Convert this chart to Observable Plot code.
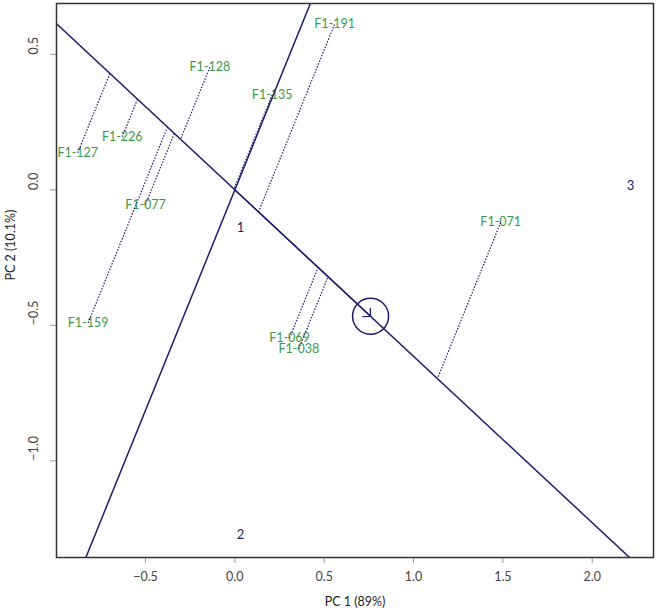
<!DOCTYPE html>
<html>
<head>
<meta charset="utf-8">
<script src="https://cdn.jsdelivr.net/npm/d3@7"></script>
<script src="https://cdn.jsdelivr.net/npm/@observablehq/plot@0.6"></script>
<style>
  html, body { margin: 0; padding: 0; background: #fff; }
  #chart svg { display: block; }
</style>
</head>
<body>
<div id="chart"></div>
<script>
// Genotype scores (green labels)
const genotypes = ["F1-191","F1-128","F1-135","F1-226","F1-127","F1-077","F1-159","F1-069","F1-038","F1-071"];
const genoPC1 = [0.558, -0.140, 0.209, -0.630, -0.879, -0.500, -0.821, 0.306, 0.358, 1.488];
const genoPC2 = [0.611, 0.453, 0.351, 0.196, 0.137, -0.054, -0.491, -0.547, -0.587, -0.120];

// Environment scores (navy labels)
const environments = ["1","2","3"];
const envPC1 = [0.032, 0.032, 2.215];
const envPC2 = [-0.140, -1.275, 0.015];

// Axes
const xTicks = [-0.5, 0.0, 0.5, 1.0, 1.5, 2.0];
const yTicks = [-1.0, -0.5, 0.0, 0.5];
const xDomain = [-0.998, 2.343];
const yDomain = [-1.357, 0.688];
const xTitle = "PC 1 (89%)";
const yTitle = "PC 2 (10.1%)";

const navy = "#1e1e6e";
const green = "#3a9a4c";

// Average environment coordinate (AEC)
const avgX = d3.mean(envPC1), avgY = d3.mean(envPC2);
const len = Math.hypot(avgX, avgY);
const ux = avgX / len, uy = avgY / len;

const geno = genotypes.map((g, i) => {
  const x = genoPC1[i], y = genoPC2[i];
  const t = x * ux + y * uy;
  return {g, x, y, fx: t * ux, fy: t * uy};
});
const env = environments.map((e, i) => ({e, x: envPC1[i], y: envPC2[i]}));

const L = 10;
const abscissa = [{x: -L * ux, y: -L * uy}, {x: L * ux, y: L * uy}];
const ordinate = [{x: L * uy, y: -L * ux}, {x: -L * uy, y: L * ux}];

const fmt = d3.format(".1f");

const chart = Plot.plot({
  width: 656,
  height: 615,
  marginLeft: 56,
  marginTop: 3,
  marginRight: 3,
  marginBottom: 58,
  style: {fontFamily: "Lato, 'Open Sans', sans-serif", fontSize: "12px", background: "#fff"},
  x: {domain: xDomain, axis: null},
  y: {domain: yDomain, axis: null},
  marks: [
    Plot.text(geno, {x: "x", y: "y", text: "g", fill: green, fontSize: 12.5}),
    Plot.text(env, {x: "x", y: "y", text: "e", fill: navy, fontSize: 13}),
    Plot.link(geno, {x1: "x", y1: "y", x2: "fx", y2: "fy", stroke: navy, strokeWidth: 1.2, strokeDasharray: "1.5,1.5"}),
    Plot.line(abscissa, {x: "x", y: "y", stroke: navy, strokeWidth: 1.5, clip: true}),
    Plot.line(ordinate, {x: "x", y: "y", stroke: navy, strokeWidth: 1.5, clip: true}),
    Plot.arrow([{x1: 0, y1: 0, x2: avgX, y2: avgY}], {x1: "x1", y1: "y1", x2: "x2", y2: "y2", stroke: navy, strokeWidth: 1.3, headLength: 9, headAngle: 90}),
    Plot.dot([{x: avgX, y: avgY}], {x: "x", y: "y", r: 18, stroke: navy, strokeWidth: 1.5, fill: "none"}),
    Plot.axisX({ticks: xTicks, tickSize: 6, tickPadding: 9, tickFormat: fmt, stroke: "#999", color: "#444", fontSize: 12.5, label: null}),
    Plot.axisY({ticks: yTicks, tickSize: 6, tickFormat: () => "", stroke: "#999", label: null}),
    Plot.text(yTicks, {y: d => d, text: d => fmt(d), frameAnchor: "left", dx: -23, rotate: -90, fill: "#444", fontSize: 12.5}),
    Plot.text([xTitle], {frameAnchor: "bottom", dy: 48, fill: "#222", fontSize: 12.5}),
    Plot.text([yTitle], {frameAnchor: "left", dx: -46, rotate: -90, fill: "#222", fontSize: 12.5}),
    Plot.frame({stroke: "#333", strokeWidth: 1.5})
  ]
});
document.getElementById("chart").appendChild(chart);
</script>
</body>
</html>
